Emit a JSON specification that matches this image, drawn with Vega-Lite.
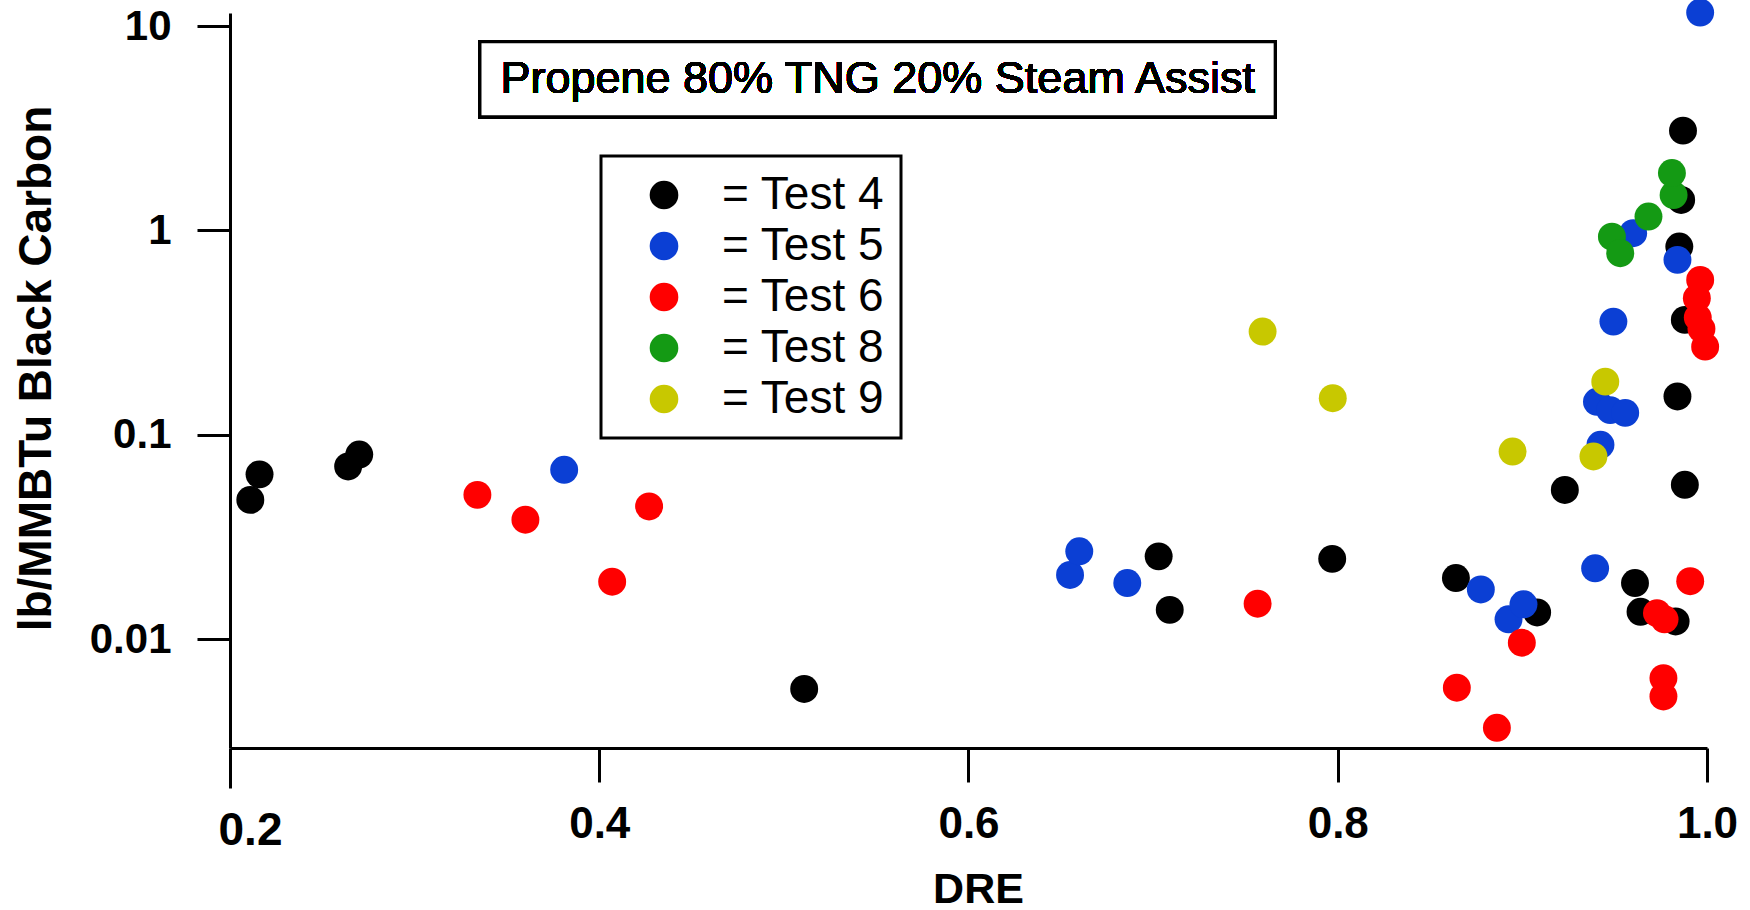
{
  "$schema": "https://vega.github.io/schema/vega-lite/v6.json",
  "width": 1477,
  "height": 735,
  "autosize": {"type": "none"},
  "padding": {"left": 230, "top": 13, "right": 43, "bottom": 162},
  "background": "white",
  "config": {
    "font": "Liberation Sans",
    "view": {"stroke": null},
    "legend": {"strokeWidth": 3},
    "axis": {"grid": false, "domainColor": "black", "tickColor": "black", "labelColor": "black", "titleColor": "black", "labelFont": "Liberation Sans", "titleFont": "Liberation Sans"}
  },
  "data": {
    "values": [
      {"test": "Test 4", "DRE": 0.211, "BC": 0.048},
      {"test": "Test 4", "DRE": 0.216, "BC": 0.064},
      {"test": "Test 4", "DRE": 0.264, "BC": 0.070},
      {"test": "Test 4", "DRE": 0.270, "BC": 0.080},
      {"test": "Test 4", "DRE": 0.511, "BC": 0.0057},
      {"test": "Test 4", "DRE": 0.703, "BC": 0.0254},
      {"test": "Test 4", "DRE": 0.709, "BC": 0.0139},
      {"test": "Test 4", "DRE": 0.797, "BC": 0.0247},
      {"test": "Test 4", "DRE": 0.864, "BC": 0.0199},
      {"test": "Test 4", "DRE": 0.908, "BC": 0.0135},
      {"test": "Test 4", "DRE": 0.923, "BC": 0.0537},
      {"test": "Test 4", "DRE": 0.961, "BC": 0.0188},
      {"test": "Test 4", "DRE": 0.964, "BC": 0.0136},
      {"test": "Test 4", "DRE": 0.983, "BC": 0.0122},
      {"test": "Test 4", "DRE": 0.988, "BC": 0.0569},
      {"test": "Test 4", "DRE": 0.984, "BC": 0.154},
      {"test": "Test 4", "DRE": 0.988, "BC": 0.365},
      {"test": "Test 4", "DRE": 0.985, "BC": 0.834},
      {"test": "Test 4", "DRE": 0.986, "BC": 1.41},
      {"test": "Test 4", "DRE": 0.987, "BC": 3.08},
      {"test": "Test 5", "DRE": 0.381, "BC": 0.0674},
      {"test": "Test 5", "DRE": 0.655, "BC": 0.0206},
      {"test": "Test 5", "DRE": 0.660, "BC": 0.0269},
      {"test": "Test 5", "DRE": 0.686, "BC": 0.0188},
      {"test": "Test 5", "DRE": 0.8775, "BC": 0.0175},
      {"test": "Test 5", "DRE": 0.8925, "BC": 0.0125},
      {"test": "Test 5", "DRE": 0.9006, "BC": 0.0148},
      {"test": "Test 5", "DRE": 0.9394, "BC": 0.0222},
      {"test": "Test 5", "DRE": 0.9423, "BC": 0.0893},
      {"test": "Test 5", "DRE": 0.9404, "BC": 0.145},
      {"test": "Test 5", "DRE": 0.9476, "BC": 0.132},
      {"test": "Test 5", "DRE": 0.9557, "BC": 0.128},
      {"test": "Test 5", "DRE": 0.9493, "BC": 0.358},
      {"test": "Test 5", "DRE": 0.960, "BC": 0.97},
      {"test": "Test 5", "DRE": 0.984, "BC": 0.718},
      {"test": "Test 5", "DRE": 0.9963, "BC": 11.66},
      {"test": "Test 6", "DRE": 0.334, "BC": 0.0508},
      {"test": "Test 6", "DRE": 0.360, "BC": 0.0384},
      {"test": "Test 6", "DRE": 0.407, "BC": 0.0191},
      {"test": "Test 6", "DRE": 0.427, "BC": 0.0446},
      {"test": "Test 6", "DRE": 0.7566, "BC": 0.0149},
      {"test": "Test 6", "DRE": 0.8645, "BC": 0.00578},
      {"test": "Test 6", "DRE": 0.8862, "BC": 0.00368},
      {"test": "Test 6", "DRE": 0.8997, "BC": 0.0096},
      {"test": "Test 6", "DRE": 0.9729, "BC": 0.0134},
      {"test": "Test 6", "DRE": 0.977, "BC": 0.0125},
      {"test": "Test 6", "DRE": 0.9764, "BC": 0.00644},
      {"test": "Test 6", "DRE": 0.9764, "BC": 0.00524},
      {"test": "Test 6", "DRE": 0.9909, "BC": 0.0192},
      {"test": "Test 6", "DRE": 0.9963, "BC": 0.573},
      {"test": "Test 6", "DRE": 0.9945, "BC": 0.466},
      {"test": "Test 6", "DRE": 0.995, "BC": 0.375},
      {"test": "Test 6", "DRE": 0.997, "BC": 0.33},
      {"test": "Test 6", "DRE": 0.999, "BC": 0.27},
      {"test": "Test 8", "DRE": 0.9485, "BC": 0.933},
      {"test": "Test 8", "DRE": 0.953, "BC": 0.774},
      {"test": "Test 8", "DRE": 0.9683, "BC": 1.17},
      {"test": "Test 8", "DRE": 0.9819, "BC": 1.49},
      {"test": "Test 8", "DRE": 0.981, "BC": 1.91},
      {"test": "Test 9", "DRE": 0.7593, "BC": 0.320},
      {"test": "Test 9", "DRE": 0.7973, "BC": 0.151},
      {"test": "Test 9", "DRE": 0.8947, "BC": 0.0828},
      {"test": "Test 9", "DRE": 0.9385, "BC": 0.0783},
      {"test": "Test 9", "DRE": 0.9449, "BC": 0.182}
    ]
  },
  "layer": [
    {
      "mark": {"type": "point", "filled": true, "shape": "circle", "size": 780, "opacity": 1, "strokeWidth": 0},
      "encoding": {
        "x": {
          "field": "DRE", "type": "quantitative",
          "scale": {"domain": [0.2, 1.0], "nice": false, "zero": false},
          "axis": {
            "values": [0.2, 0.4, 0.6, 0.8, 1.0],
            "format": ".1f",
            "labelFlush": false,
            "labelFontWeight": "bold",
            "labelFontSize": {"condition": {"test": "datum.value < 0.3", "value": 46}, "value": 44},
            "labelOffset": {"condition": {"test": "datum.value < 0.3", "value": 20}, "value": 0},
            "labelPadding": 20,
            "domainWidth": 3,
            "tickWidth": 3,
            "tickSize": {"condition": {"test": "datum.value < 0.3", "value": 40}, "value": 34},
            "title": "DRE",
            "titleFontSize": 43,
            "titleFontWeight": "bold",
            "titleBaseline": "alphabetic",
            "titleAlign": "center",
            "titleX": 748,
            "titleY": 154
          }
        },
        "y": {
          "field": "BC", "type": "quantitative",
          "scale": {"type": "log", "domain": [0.00293, 11.6], "nice": false},
          "axis": {
            "values": [0.01, 0.1, 1, 10],
            "format": "~g",
            "labelFontWeight": "bold",
            "labelFontSize": 42,
            "labelPadding": 26,
            "domainWidth": 3,
            "tickWidth": 3,
            "tickSize": 33,
            "title": "lb/MMBTu Black Carbon",
            "titleFontSize": 46,
            "titleFontWeight": "bold",
            "titleBaseline": "alphabetic",
            "titleAngle": -90,
            "titleAlign": "center",
            "titleX": -180,
            "titleY": 355
          }
        },
        "color": {
          "field": "test", "type": "nominal",
          "scale": {"domain": ["Test 4", "Test 5", "Test 6", "Test 8", "Test 9"], "range": ["#000000", "#0b3fd4", "#ff0000", "#149a14", "#c8c800"]},
          "legend": {
            "orient": "none",
            "legendX": 371,
            "legendY": 143,
            "title": null,
            "labelExpr": "'= ' + datum.label",
            "labelFontSize": 46,
            "labelLimit": 600,
            "labelFont": "Liberation Sans",
            "labelColor": "black",
            "symbolType": "circle",
            "symbolSize": 820,
            "symbolStrokeWidth": 0,
            "symbolOpacity": 1,
            "strokeColor": "black",
            "padding": 16,
            "symbolOffset": 24,
            "labelOffset": 35,
            "rowPadding": 5
          }
        }
      }
    },
    {
      "mark": {"type": "rect", "fill": "white", "stroke": "black", "strokeWidth": 3},
      "encoding": {
        "x": {"datum": 0.3354, "type": "quantitative"},
        "x2": {"datum": 0.7661},
        "y": {"datum": 8.38, "type": "quantitative"},
        "y2": {"datum": 3.60}
      }
    },
    {
      "mark": {"type": "text", "fontSize": 45, "align": "center", "baseline": "middle", "color": "black", "font": "Liberation Sans"},
      "encoding": {
        "x": {"datum": 0.5508, "type": "quantitative"},
        "y": {"datum": 5.49, "type": "quantitative"},
        "text": {"value": "Propene 80% TNG 20% Steam Assist"}
      }
    }
  ]
}
